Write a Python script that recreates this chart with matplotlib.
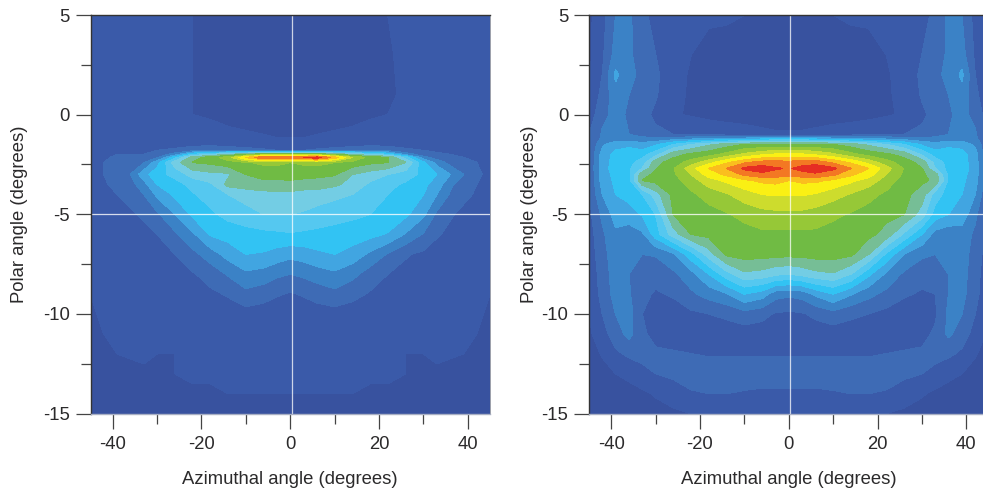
"""
Two-panel angular intensity maps (polar vs azimuthal angle).
"""

import numpy as np
import matplotlib
matplotlib.use("Agg")
import matplotlib.pyplot as plt
from matplotlib.ticker import FixedLocator

plt.rcParams['font.family'] = ['Liberation Sans', 'DejaVu Sans']
plt.rcParams['axes.unicode_minus'] = False

# Azimuth samples shared by both maps (degrees)
azimuth = [-45, -42, -39, -36, -33, -30, -26, -22, -18, -14, -10, -6, -3, 0,
           3, 6, 10, 14, 18, 22, 26, 30, 33, 36, 39, 42, 45]

polar_left = [5, 3, 1, 0, -1, -1.5, -1.8, -2, -2.15, -2.4, -3, -3.5, -4, -5,
              -6, -7, -8, -9, -10, -11, -12, -13, -14, -15]
intensity_left = [
    [1.0, 1.3, 1.8, 1.7, 1.6, 1.3, 1.2, 1.0, 0.8, 0.6, 0.5, 0.5, 0.5, 0.5, 0.5, 0.5, 0.5, 0.6, 0.8, 1.0, 1.2, 1.3, 1.6, 1.8, 1.9, 1.3, 1.0],
    [1.0, 1.3, 1.7, 1.6, 1.5, 1.3, 1.2, 1.0, 0.7, 0.5, 0.5, 0.5, 0.5, 0.5, 0.5, 0.5, 0.5, 0.5, 0.7, 0.9, 1.2, 1.3, 1.5, 1.7, 1.8, 1.3, 1.0],
    [1.0, 1.3, 1.6, 1.5, 1.4, 1.2, 1.1, 1.0, 0.8, 0.6, 0.5, 0.5, 0.5, 0.5, 0.5, 0.5, 0.5, 0.6, 0.8, 0.9, 1.1, 1.2, 1.4, 1.5, 1.6, 1.3, 1.0],
    [1.1, 1.4, 1.5, 1.5, 1.3, 1.2, 1.1, 1.0, 0.9, 0.7, 0.6, 0.5, 0.5, 0.5, 0.5, 0.5, 0.6, 0.7, 0.9, 1.0, 1.1, 1.2, 1.3, 1.5, 1.5, 1.3, 1.1],
    [1.1, 1.4, 1.5, 1.5, 1.4, 1.3, 1.3, 1.3, 1.3, 1.2, 1.1, 1.0, 0.9, 0.9, 0.9, 1.0, 1.1, 1.2, 1.3, 1.3, 1.3, 1.3, 1.4, 1.5, 1.5, 1.4, 1.1],
    [1.2, 1.5, 1.7, 1.7, 1.6, 1.6, 1.6, 1.7, 1.7, 1.5, 1.4, 1.3, 1.2, 1.2, 1.2, 1.3, 1.4, 1.5, 1.7, 1.7, 1.6, 1.6, 1.6, 1.7, 1.7, 1.5, 1.2],
    [1.3, 1.6, 1.8, 1.8, 1.8, 2.0, 2.2, 2.6, 3.0, 2.8, 2.5, 2.2, 2.0, 2.0, 2.0, 2.2, 2.5, 2.8, 3.0, 2.6, 2.2, 2.0, 1.9, 1.8, 1.8, 1.6, 1.3],
    [1.5, 1.8, 2.0, 2.0, 2.0, 2.3, 3.4, 6.0, 7.0, 8.0, 9.0, 10.0, 10.0, 10.0, 10.0, 10.0, 9.0, 8.0, 7.0, 6.0, 3.6, 2.4, 2.1, 2.0, 2.0, 1.8, 1.5],
    [1.6, 1.9, 2.1, 2.1, 2.2, 2.8, 5.5, 8.5, 9.5, 10.5, 13.0, 15.0, 15.0, 14.5, 15.0, 15.5, 13.5, 11.0, 9.5, 9.0, 6.5, 3.3, 2.5, 2.2, 2.0, 1.9, 1.6],
    [1.7, 2.0, 2.2, 2.5, 2.9, 4.5, 7.5, 9.0, 9.2, 9.6, 9.9, 10.2, 10.2, 10.0, 10.2, 10.3, 10.0, 9.6, 9.2, 9.0, 8.0, 5.2, 3.6, 2.6, 2.2, 2.0, 1.7],
    [1.7, 2.0, 2.3, 3.0, 4.6, 5.6, 6.3, 7.4, 7.7, 7.8, 9.0, 9.3, 9.4, 9.4, 9.3, 9.2, 9.1, 8.0, 7.5, 7.0, 6.5, 5.7, 5.0, 4.0, 3.0, 2.2, 1.7],
    [1.7, 1.9, 2.2, 2.6, 3.6, 5.0, 5.6, 6.3, 6.8, 8.3, 8.5, 8.7, 8.6, 8.7, 8.6, 8.6, 8.2, 7.6, 6.8, 6.3, 5.8, 5.2, 4.6, 3.2, 2.4, 2.0, 1.7],
    [1.6, 1.8, 2.0, 2.2, 3.0, 4.2, 5.2, 5.9, 6.4, 7.0, 7.4, 7.6, 7.7, 7.7, 7.5, 7.4, 7.2, 7.0, 6.4, 6.0, 5.5, 5.0, 4.0, 2.9, 2.2, 1.9, 1.6],
    [1.5, 1.6, 1.8, 1.9, 2.1, 2.8, 4.0, 5.2, 5.8, 6.3, 6.6, 7.0, 7.0, 7.0, 6.9, 6.7, 6.5, 6.2, 6.0, 5.8, 5.2, 4.2, 2.8, 2.1, 1.8, 1.6, 1.4],
    [1.3, 1.5, 1.7, 1.8, 1.8, 2.0, 2.8, 3.8, 5.1, 5.4, 5.6, 5.7, 5.8, 5.9, 5.8, 5.7, 5.5, 5.5, 5.3, 4.9, 3.9, 2.9, 2.1, 1.8, 1.6, 1.4, 1.2],
    [1.2, 1.4, 1.6, 1.7, 1.7, 1.7, 2.0, 2.7, 3.5, 4.4, 5.0, 4.9, 4.6, 4.3, 4.5, 4.8, 5.0, 4.6, 3.8, 2.9, 2.1, 1.8, 1.6, 1.6, 1.5, 1.3, 1.1],
    [1.2, 1.4, 1.6, 1.6, 1.6, 1.6, 1.7, 1.9, 2.4, 3.1, 3.8, 3.6, 3.2, 3.0, 3.2, 3.5, 3.8, 3.3, 2.5, 2.0, 1.7, 1.6, 1.5, 1.5, 1.4, 1.3, 1.0],
    [1.0, 1.3, 1.4, 1.4, 1.4, 1.4, 1.5, 1.6, 1.8, 2.1, 2.7, 2.4, 2.1, 1.9, 2.1, 2.4, 2.7, 2.3, 1.9, 1.7, 1.5, 1.4, 1.3, 1.3, 1.3, 1.2, 1.0],
    [0.8, 1.2, 1.3, 1.3, 1.3, 1.2, 1.2, 1.3, 1.4, 1.5, 1.6, 1.5, 1.4, 1.4, 1.4, 1.5, 1.6, 1.5, 1.4, 1.3, 1.2, 1.2, 1.3, 1.3, 1.3, 1.2, 0.8],
    [0.7, 1.0, 1.6, 1.3, 1.2, 1.1, 1.1, 1.1, 1.2, 1.2, 1.2, 1.2, 1.2, 1.2, 1.2, 1.2, 1.2, 1.2, 1.2, 1.1, 1.1, 1.1, 1.2, 1.3, 1.5, 1.0, 0.7],
    [0.4, 0.7, 1.0, 1.1, 1.1, 1.0, 1.0, 1.1, 1.1, 1.1, 1.1, 1.1, 1.1, 1.1, 1.1, 1.1, 1.1, 1.1, 1.1, 1.1, 1.0, 1.0, 1.1, 1.1, 1.0, 0.7, 0.4],
    [0.2, 0.3, 0.5, 0.7, 0.9, 1.0, 1.0, 1.1, 1.1, 1.1, 1.1, 1.1, 1.1, 1.1, 1.1, 1.1, 1.1, 1.1, 1.1, 1.1, 1.0, 1.0, 0.9, 0.7, 0.5, 0.3, 0.2],
    [0.2, 0.2, 0.3, 0.4, 0.5, 0.6, 0.8, 0.9, 0.9, 1.0, 1.0, 1.0, 1.0, 1.0, 1.0, 1.0, 1.0, 1.0, 0.9, 0.9, 0.8, 0.6, 0.5, 0.4, 0.3, 0.2, 0.2],
    [0.2, 0.2, 0.2, 0.2, 0.3, 0.3, 0.4, 0.6, 0.7, 0.8, 0.8, 0.8, 0.8, 0.8, 0.8, 0.8, 0.8, 0.8, 0.7, 0.6, 0.4, 0.3, 0.3, 0.2, 0.2, 0.2, 0.2],
]

polar_right = [5, 3, 2, 1, 0, -1, -1.2, -1.5, -2, -2.4, -2.7, -3, -3.3, -4, -5,
               -6, -7, -8, -9, -10, -11, -12, -13, -14, -15]
intensity_right = [
    [0.8, 1.6, 3.0, 3.2, 2.2, 1.7, 1.4, 1.2, 1.1, 1.1, 1.0, 0.8, 0.8, 0.8, 0.8, 0.8, 1.0, 1.1, 1.1, 1.2, 1.4, 1.7, 2.2, 3.2, 3.0, 1.6, 0.8],
    [0.8, 1.8, 3.4, 3.2, 2.4, 2.0, 1.3, 1.0, 0.8, 0.7, 0.6, 0.6, 0.6, 0.6, 0.6, 0.6, 0.6, 0.7, 0.8, 1.0, 1.3, 2.0, 2.4, 3.2, 3.4, 1.8, 0.8],
    [0.9, 2.0, 4.2, 3.2, 2.8, 2.2, 1.3, 0.9, 0.7, 0.6, 0.6, 0.6, 0.6, 0.6, 0.6, 0.6, 0.6, 0.6, 0.7, 0.9, 1.3, 2.2, 2.8, 3.2, 4.2, 2.0, 0.9],
    [1.0, 2.3, 3.6, 3.0, 2.6, 2.1, 1.2, 0.9, 0.7, 0.6, 0.6, 0.6, 0.6, 0.6, 0.6, 0.6, 0.6, 0.6, 0.7, 0.9, 1.2, 2.1, 2.6, 3.0, 3.6, 2.3, 1.0],
    [1.3, 2.8, 3.2, 2.9, 2.3, 1.8, 1.1, 0.9, 0.7, 0.6, 0.6, 0.6, 0.6, 0.6, 0.6, 0.6, 0.6, 0.6, 0.7, 0.9, 1.1, 1.8, 2.3, 2.9, 3.2, 2.8, 1.3],
    [2.0, 3.1, 3.2, 3.0, 2.5, 2.2, 2.0, 1.9, 1.8, 1.6, 1.4, 1.2, 1.1, 1.1, 1.1, 1.2, 1.4, 1.6, 1.8, 1.9, 2.0, 2.2, 2.5, 3.0, 3.2, 3.1, 2.0],
    [2.0, 3.2, 3.4, 3.4, 3.3, 3.2, 3.4, 3.6, 3.8, 3.9, 4.2, 4.5, 5.0, 5.0, 5.0, 4.5, 4.2, 3.9, 3.8, 3.6, 3.4, 3.2, 3.3, 3.4, 3.4, 3.2, 2.0],
    [1.9, 3.8, 4.6, 4.7, 4.3, 4.8, 6.0, 7.0, 7.8, 8.5, 9.0, 9.1, 9.2, 9.2, 9.2, 9.1, 9.0, 8.5, 7.8, 7.0, 6.0, 4.8, 4.3, 4.7, 4.6, 3.8, 1.9],
    [2.0, 4.4, 5.3, 5.6, 5.6, 6.6, 8.6, 9.2, 9.6, 10.3, 11.2, 11.8, 12.1, 12.1, 12.1, 11.8, 11.2, 10.3, 9.6, 9.2, 8.6, 6.8, 5.5, 5.6, 5.4, 4.4, 2.0],
    [2.0, 4.5, 5.4, 5.7, 6.4, 8.6, 9.5, 10.4, 11.6, 12.8, 13.8, 14.4, 14.4, 14.3, 14.5, 14.6, 13.8, 12.8, 11.6, 10.4, 9.5, 8.6, 6.6, 5.6, 5.4, 4.5, 2.0],
    [2.0, 4.6, 5.4, 5.8, 7.0, 8.9, 9.9, 11.6, 13.0, 14.0, 15.2, 15.5, 15.1, 14.9, 15.3, 15.6, 15.2, 14.0, 13.0, 11.4, 9.9, 9.0, 7.0, 5.6, 5.4, 4.6, 2.0],
    [2.0, 4.5, 5.3, 5.7, 8.6, 9.2, 9.8, 11.0, 12.4, 13.2, 14.2, 14.7, 14.6, 14.3, 14.6, 14.8, 14.2, 13.2, 12.4, 11.0, 9.8, 9.2, 8.4, 5.7, 5.3, 4.5, 2.0],
    [2.0, 4.4, 5.2, 5.6, 9.0, 9.3, 9.6, 10.5, 11.6, 12.2, 12.8, 13.2, 13.3, 13.0, 13.2, 13.2, 12.8, 12.2, 11.6, 10.5, 9.6, 9.2, 8.8, 5.8, 5.2, 4.4, 2.0],
    [1.9, 4.0, 5.0, 5.3, 6.0, 7.5, 9.3, 9.8, 10.4, 10.9, 11.5, 12.0, 12.1, 12.1, 12.1, 11.9, 11.4, 10.9, 10.3, 9.8, 9.3, 8.5, 6.5, 5.5, 5.0, 4.0, 1.9],
    [1.7, 3.2, 4.4, 4.6, 5.1, 6.0, 9.0, 9.3, 9.6, 9.9, 10.3, 10.6, 10.7, 10.7, 10.7, 10.5, 10.2, 9.9, 9.6, 9.3, 9.0, 7.5, 5.5, 5.0, 4.6, 3.2, 1.7],
    [1.5, 2.8, 3.8, 3.4, 3.8, 5.5, 7.5, 9.0, 9.3, 9.4, 9.6, 9.8, 9.8, 9.8, 9.8, 9.8, 9.6, 9.4, 9.3, 8.6, 6.8, 5.0, 3.6, 3.3, 3.5, 2.8, 1.5],
    [1.4, 2.6, 3.6, 3.2, 3.0, 3.1, 3.8, 5.6, 7.5, 9.2, 9.4, 9.4, 9.3, 9.3, 9.3, 9.4, 9.4, 9.2, 8.0, 5.8, 4.0, 3.2, 3.0, 3.1, 3.4, 2.6, 1.4],
    [1.3, 2.4, 3.5, 3.0, 2.5, 2.3, 2.8, 3.6, 5.0, 6.6, 7.8, 7.6, 7.2, 7.0, 7.3, 7.7, 7.9, 7.0, 5.2, 3.8, 2.8, 2.3, 2.4, 3.0, 3.4, 2.4, 1.3],
    [1.2, 2.3, 3.4, 3.1, 2.2, 1.9, 2.1, 2.8, 3.4, 3.9, 5.0, 4.5, 3.4, 3.2, 3.4, 4.2, 5.0, 4.1, 3.3, 2.7, 2.1, 1.9, 2.0, 3.0, 3.3, 2.3, 1.2],
    [1.0, 2.0, 3.0, 3.4, 2.0, 1.6, 1.6, 1.8, 2.0, 2.2, 2.6, 2.3, 1.9, 1.8, 1.9, 2.2, 2.6, 2.2, 2.0, 1.7, 1.6, 1.6, 1.8, 3.2, 3.0, 2.0, 1.0],
    [0.8, 1.6, 2.5, 3.3, 2.2, 1.6, 1.5, 1.5, 1.5, 1.5, 1.5, 1.5, 1.5, 1.5, 1.5, 1.5, 1.5, 1.5, 1.5, 1.5, 1.5, 1.6, 2.2, 3.2, 2.5, 1.6, 0.8],
    [0.5, 1.1, 1.8, 2.2, 2.3, 2.2, 2.1, 2.0, 1.9, 1.9, 1.9, 1.9, 1.9, 1.9, 1.9, 1.9, 1.9, 1.9, 1.9, 2.0, 2.1, 2.2, 2.3, 2.2, 1.8, 1.1, 0.5],
    [0.3, 0.6, 1.0, 1.2, 1.7, 2.0, 2.2, 2.4, 2.5, 2.5, 2.5, 2.5, 2.5, 2.5, 2.5, 2.5, 2.5, 2.5, 2.5, 2.4, 2.2, 2.0, 1.7, 1.2, 1.0, 0.6, 0.3],
    [0.2, 0.3, 0.5, 0.7, 0.8, 1.1, 1.5, 1.9, 2.0, 2.0, 1.9, 1.8, 1.8, 1.8, 1.8, 1.8, 1.9, 2.0, 2.0, 1.9, 1.5, 1.1, 0.8, 0.7, 0.5, 0.3, 0.2],
    [0.2, 0.2, 0.3, 0.3, 0.4, 0.6, 0.8, 1.0, 1.2, 1.3, 1.3, 1.3, 1.3, 1.3, 1.3, 1.3, 1.3, 1.3, 1.2, 1.0, 0.8, 0.6, 0.4, 0.3, 0.3, 0.2, 0.2],
]

# One colour for each band of the contour map
band_colors = ['#38529f', '#3a5aa9', '#3e6bb5', '#3b82c6', '#41a5e1', '#32c3f3',
               '#55c8f0', '#73cde4', '#76be96', '#70bb44', '#96c837', '#cddc2d',
               '#faf014', '#fabe1e', '#f37823', '#e62d23']
band_edges = list(range(17))

x_major = [-40, -20, 0, 20, 40]
x_minor = [-30, -10, 10, 30]
y_major = [5, 0, -5, -10, -15]
y_minor = [2.5, -2.5, -7.5, -12.5]

TEXT_COLOR = '#2b2a2b'
FONT_SIZE = 13.3
FIG_W, FIG_H = 983, 491


def draw_map(fig, left_px, polar, values, ylabel_px):
    """Draw one map; left_px is the left edge of the axes in pixels."""
    top_px, bottom_px, width_px = 15, 413.5, 399.5
    ax = fig.add_axes([left_px / FIG_W, 1 - bottom_px / FIG_H,
                       width_px / FIG_W, (bottom_px - top_px) / FIG_H])

    cs = ax.contourf(azimuth, polar, np.array(values), levels=band_edges,
                     colors=band_colors, antialiased=False)
    cs.set_edgecolor('face')
    cs.set_linewidth(0.3)

    ax.set_xlim(-45, 45)
    ax.set_ylim(-15, 5)

    # Crosshair
    ax.axvline(0.35, color='white', alpha=0.75, linewidth=0.9)
    ax.axhline(-4.97, color='white', alpha=0.8, linewidth=0.9)

    ax.xaxis.set_major_locator(FixedLocator(x_major))
    ax.xaxis.set_minor_locator(FixedLocator(x_minor))
    ax.yaxis.set_major_locator(FixedLocator(y_major))
    ax.yaxis.set_minor_locator(FixedLocator(y_minor))
    ax.tick_params(axis='both', which='major', length=11, width=0.9,
                   color='#444444', labelsize=FONT_SIZE, labelcolor=TEXT_COLOR, pad=4)
    ax.tick_params(axis='both', which='minor', length=7, width=0.9, color='#444444')
    ax.tick_params(axis='x', which='major', pad=5)

    for side, color, lw in [('left', '#333333', 1.0), ('top', '#333333', 1.0),
                            ('bottom', '#a9b0c4', 1.0), ('right', '#8a8f9c', 0.6)]:
        ax.spines[side].set_color(color)
        ax.spines[side].set_linewidth(lw)

    ax.set_xlabel("Azimuthal angle (degrees)", fontsize=FONT_SIZE, color=TEXT_COLOR)
    ax.xaxis.set_label_coords(0.5, -(471 - bottom_px) / (bottom_px - top_px))
    ax.set_ylabel("Polar angle (degrees)", fontsize=FONT_SIZE, color=TEXT_COLOR)
    ax.yaxis.set_label_coords((ylabel_px - left_px) / width_px, 0.5)
    return ax


fig = plt.figure(figsize=(FIG_W / 100, FIG_H / 100), dpi=100)
draw_map(fig, 90.5, polar_left, intensity_left, 28)
draw_map(fig, 589, polar_right, intensity_right, 538)
fig.savefig('out.png', dpi=100)
